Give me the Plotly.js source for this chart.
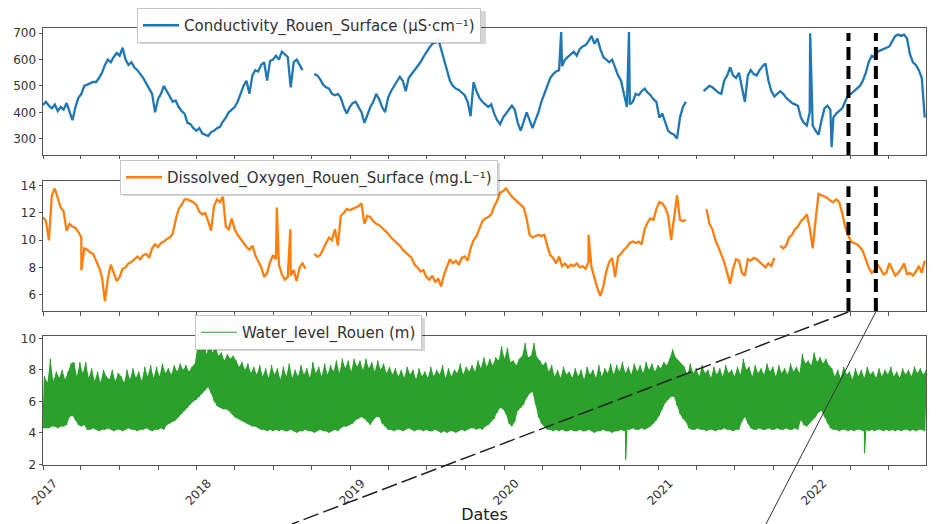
<!DOCTYPE html>
<html>
<head>
<meta charset="utf-8">
<script src="https://cdn.plot.ly/plotly-3.0.1.min.js"></script>
<style>
  html, body { margin: 0; padding: 0; background: #ffffff; }
  #chart { width: 944px; height: 524px; }
</style>
</head>
<body>
<div id="chart"></div>
<script>
// Weekly series starting 2017-01-01 (one value every 7 days), null = no data
const seriesStart = '2017-01-01';
const stepDays = 7;

// Conductivity at Rouen, surface (µS/cm)
const conductivity = [
  428, 440, 425, 415, 430, 405, 420, 410, 435, 400,
  370, 420, 455, 470, 500, 505, 510, 515, 515, 530,
  550, 580, 600, 590, 610, 625, 615, 645, 600, 580,
  590, 570, 560, 545, 530, 510, 490, 470, 400, 450,
  470, 500, 480, 460, 440, 445, 420, 405, 395, 360,
  355, 340, 330, 340, 320, 315, 310, 325, 330, 340,
  345, 365, 380, 400, 410, 420, 440, 470, 500, 520,
  470, 540, 560, 555, 580, 590, 520, 595, 600, 615,
  600, 630, 620, 610, 495, 590, 600, 580, 560, null,
  null, null, 545, 540, 525, 505, 495, 490, 470, 465,
  470, 455, 420, 395, 420, 435, 440, 420, 400, 360,
  390, 420, 440, 470, 450, 420, 400, 455, 480, 500,
  520, 535, 520, 480, 530, 545, 560, 575, 590, 610,
  630, 645, 660, 665, 680, 640, 600, 560, 520, 500,
  490, 485, 475, 465, 440, 385, 515, 480, 455, 440,
  430, 420, 430, 395, 370, 355, 380, 395, 410, 425,
  410, 360, 330, 370, 400, 370, 340, 370, 400, 440,
  470, 500, 530, 545, 555, 560, 575, 600, 610, 620,
  630, 615, 640, 650, 655, 670, 690, 660, 680, 640,
  610, 600, 590, 600, 570, 540, 520, 470, 420, 430,
  440, 470, 465, 480, 490, 475, 465, 450, 440, 380,
  395, 360, 330, 320, 315, 300, 380, 420, 440, null,
  null, null, null, null, 480, 490, 500, 495, 485, 475,
  470, 520, 540, 570, 540, 530, 550, 500, 440, 540,
  560, 545, 540, 560, 575, 585, 520, 480, 460, 470,
  480, 470, 455, 445, 435, 430, 425, 380, 360, 350,
  400, 350, 330, 315, 370, 415, 425, 410, 380, 395,
  405, 415, 440, 465, 470, 480, 490, 500, 520, 550,
  590, 615, 610, 630, 635, 640, 645, 650, 670, 690,
  695, 690, 695, 680, 620, 590, 580, 560, 530, 380
];
// isolated single readings between the weekly values
const conductivitySpikeDates = ['2020-05-15', '2020-10-23', '2021-12-27', '2022-02-16'];
const conductivitySpikeValues = [705, 705, 700, 268];

// Dissolved oxygen at Rouen, surface (mg/L)
const dissolvedOxygen = [
  11.7, 11.4, 10.0, 13.3, 13.8, 13.0, 12.4, 12.1, 10.7, 11.2,
  11.0, 10.9, 10.6, 10.2, 9.4, 9.3, 9.1, 9.0, 8.5, 8.0,
  7.3, 5.5, 7.2, 8.2, 7.6, 7.0, 7.3, 7.9, 8.0, 8.3,
  8.4, 8.6, 8.8, 8.6, 8.9, 9.0, 8.7, 9.4, 9.7, 9.5,
  9.8, 9.9, 10.1, 10.2, 10.5, 11.5, 12.3, 12.6, 13.0, 13.0,
  12.9, 12.8, 12.6, 12.1, 11.9, 12.0, 11.4, 10.7, 12.5, 13.0,
  12.8, 13.2, 11.0, 10.8, 11.6, 10.8, 10.4, 10.1, 9.8, 9.5,
  9.3, 9.6, 8.9, 8.4, 8.0, 7.3, 7.6, 8.4, 8.9, 8.6,
  8.2, 7.5, 7.1, 7.3, 7.4, 7.8, 7.0, 8.0, 8.3, 7.9,
  null, null, 9.0, 8.8, 8.9, 9.4, 9.8, 10.2, 10.0, 10.8,
  9.6, 11.8, 12.0, 12.3, 12.2, 12.3, 12.4, 12.5, 12.7, 11.2,
  11.8, 11.7, 11.4, 11.2, 11.1, 10.9, 10.7, 10.5, 10.2, 10.0,
  9.8, 9.6, 9.3, 9.1, 8.9, 8.7, 8.2, 8.0, 7.7, 7.8,
  7.3, 7.1, 7.4, 6.9, 7.2, 6.6, 7.5, 8.1, 8.6, 8.3,
  8.5, 8.2, 8.7, 8.8, 8.5, 9.4, 10.0, 10.3, 10.8, 11.4,
  11.6, 11.7, 11.9, 12.5, 12.9, 13.5, 13.6, 13.8, 13.5, 13.2,
  13.0, 12.8, 12.6, 12.4, 11.6, 10.4, 10.2, 10.3, 10.4, 10.3,
  10.4, 9.6, 8.9, 8.7, 8.3, 8.8, 8.1, 8.3, 8.0, 8.2,
  8.1, 8.3, 8.0, 8.1, 7.9, 8.4, 8.0, 7.2, 6.5, 5.9,
  6.6, 7.7, 8.4, 8.7, 7.3, 8.8, 9.0, 9.3, 9.5, 9.8,
  9.9, 9.8, 9.9, 9.7, 10.8, 11.3, 11.6, 11.5, 12.3, 12.8,
  12.7, 12.4, 11.8, 10.0, 11.5, 13.3, 11.5, 11.4, 11.5, null,
  null, null, null, null, null, 12.3, 11.2, 10.8, 10.0, 9.5,
  9.0, 8.4, 7.6, 6.8, 7.9, 8.6, 8.5, 7.6, 7.4, 8.6,
  8.5, 8.7, 8.6, 8.4, 8.2, 8.0, 8.3, 8.1, 8.7, null,
  9.6, 9.4, 9.6, 10.2, 10.4, 10.8, 11.0, 11.4, 11.6, 11.9,
  10.9, 9.4, 11.5, 13.4, 13.3, 13.2, 13.1, 12.9, 12.8, 13.0,
  12.8, 12.0, 11.0, 10.4, 9.9, 9.8, 9.7, 9.5, 9.2, 8.6,
  8.0, 7.6, 7.8, 8.2, 7.9, 7.5, 7.6, 8.3, 7.8, 7.4,
  7.6, 7.9, 8.3, 7.5, 7.6, 7.4, 7.7, 8.1, 7.6, 8.5
];
const oxygenSpikeDates = ['2017-04-02', '2018-07-10', '2018-08-11', '2020-07-19'];
const oxygenSpikeValues = [7.8, 12.4, 10.8, 10.4];

// Water level at Rouen (m): weekly low-water and high-water readings
const waterLevelLow = [
  4.3, 4.3, 4.3, 4.4, 4.4, 4.3, 4.4, 4.4, 4.5, 5.0,
  5.1, 4.8, 4.5, 4.4, 4.5, 4.2, 4.2, 4.3, 4.2, 4.1,
  4.2, 4.2, 4.3, 4.2, 4.1, 4.2, 4.2, 4.1, 4.2, 4.3,
  4.2, 4.2, 4.1, 4.2, 4.2, 4.3, 4.2, 4.1, 4.2, 4.2,
  4.3, 4.2, 4.5, 4.6, 4.7, 4.8, 5.0, 5.2, 5.4, 5.6,
  5.8, 6.0, 6.1, 6.3, 6.5, 6.7, 6.9, 6.5, 6.0, 5.7,
  5.6, 5.5, 5.5, 5.4, 5.2, 5.0, 4.9, 4.8, 4.7, 4.6,
  4.5, 4.4, 4.4, 4.3, 4.2, 4.2, 4.1, 4.2, 4.1, 4.2,
  4.1, 4.2, 4.1, 4.1, 4.2, 4.1, 4.0, 4.1, 4.1, 4.2,
  4.1, 4.1, 4.0, 4.1, 4.2, 4.1, 4.1, 4.0, 4.1, 4.2,
  4.1, 4.3, 4.4, 4.4, 4.5, 4.6, 4.8, 4.9, 5.0, 4.9,
  4.7, 4.5, 4.8, 5.0, 5.0, 4.6, 4.4, 4.2, 4.2, 4.1,
  4.2, 4.2, 4.1, 4.2, 4.3, 4.2, 4.1, 4.2, 4.2, 4.1,
  4.2, 4.1, 4.1, 4.2, 4.1, 4.0, 4.1, 4.0, 4.1, 4.1,
  4.0, 4.1, 4.2, 4.1, 4.2, 4.3, 4.3, 4.2, 4.3, 4.2,
  4.4, 4.5, 4.7, 4.9, 5.3, 5.6, 5.5, 5.2, 4.6, 4.4,
  4.7, 5.4, 5.6, 5.8, 6.2, 6.5, 6.6, 5.8, 5.0, 4.6,
  4.4, 4.2, 4.2, 4.1, 4.2, 4.1, 4.2, 4.1, 4.1, 4.2,
  4.1, 4.1, 4.2, 4.1, 4.1, 4.2, 4.1, 4.0, 4.1, 4.1,
  4.2, 4.1, 4.1, 4.0, 4.1, 4.1, 4.2, 4.1, 4.2, 4.2,
  4.3, 4.2, 4.2, 4.3, 4.2, 4.3, 4.4, 4.6, 4.8, 5.1,
  5.5, 5.9, 6.1, 6.3, 6.3, 5.7, 5.2, 4.9, 4.7, 4.3,
  4.2, 4.2, 4.3, 4.2, 4.2, 4.1, 4.2, 4.2, 4.1, 4.2,
  4.2, 4.3, 4.2, 4.2, 4.1, 4.2, 4.2, 4.7, 5.0, 4.6,
  4.3, 4.2, 4.2, 4.3, 4.2, 4.2, 4.3, 4.2, 4.2, 4.3,
  4.2, 4.2, 4.3, 4.2, 4.2, 4.3, 4.2, 4.8, 4.5, 4.4,
  4.6, 4.8, 5.0, 5.3, 5.4, 5.0, 4.6, 4.3, 4.2, 4.2,
  4.1, 4.2, 4.2, 4.1, 4.2, 4.1, 4.2, 4.2, 4.1, 4.2,
  4.1, 4.2, 4.1, 4.2, 4.2, 4.1, 4.2, 4.1, 4.2, 4.1,
  4.2, 4.1, 4.2, 4.2, 4.1, 4.2, 4.1, 4.2, 4.2, 4.1
];
const waterLevelHigh = [
  7.6, 7.2, 8.7, 7.3, 7.9, 7.5, 8.0, 7.4, 7.9, 8.4,
  8.5, 7.6, 8.5, 7.8, 8.5, 7.5,
  8.1, 7.3, 7.9, 7.2, 8.0, 7.6, 7.4, 8.0, 7.3, 7.8,
  7.6, 7.2, 8.0, 7.4, 8.1, 7.5, 7.9, 7.3, 8.2, 7.6,
  8.3, 7.5, 8.2, 7.6, 8.4, 7.8, 8.1, 7.7, 8.3, 7.9,
  8.4, 8.0, 8.3, 7.9, 8.2, 8.4,
  9.7, 9.2, 9.8, 9.0, 9.7, 9.1, 9.5,
  8.9, 9.1, 8.6, 9.0, 8.7, 8.9, 8.6,
  8.2, 8.5, 8.0, 8.4, 7.8, 8.2, 7.7, 8.3, 7.6, 8.1,
  7.5, 8.3, 7.7, 8.1, 7.4, 8.2, 7.6, 8.4, 7.5, 8.0, 7.6, 8.3, 7.7, 8.1, 7.5,
  8.5, 7.8, 8.2, 7.6, 8.4, 7.7, 8.3, 7.9, 8.6, 7.8, 8.7, 8.1, 8.6, 7.9, 8.7,
  8.2, 8.6, 8.0, 8.7, 8.1, 8.5, 7.9, 8.6, 8.0, 8.4, 7.8, 8.2, 7.7,
  8.1, 7.6, 8.0, 7.5, 8.2, 7.7, 8.0, 7.4, 8.1, 7.6,
  7.9, 7.5, 8.2, 7.6, 8.0, 7.7, 8.3, 7.5, 8.1, 7.6,
  8.0, 7.8, 8.4, 7.7, 8.2, 7.9,
  8.3, 7.9, 8.6, 8.1, 8.8, 8.2, 8.7, 8.3, 8.8,
  8.6, 9.5, 8.7, 9.4, 8.5, 8.6, 8.3,
  8.7, 8.9, 9.7, 8.8, 8.9, 9.7, 8.8, 8.6, 8.3, 8.5,
  7.9, 8.3, 7.6, 8.0, 7.5, 8.2, 7.7, 7.9, 7.5, 8.1,
  7.6, 8.0, 7.4, 8.2, 7.7, 8.0, 7.5, 8.3, 7.6, 8.1,
  7.8, 8.4, 7.7, 8.3, 7.9, 8.5, 7.8, 8.2, 7.7, 8.4,
  7.9, 8.3, 7.8, 8.5, 8.0, 8.4, 7.9, 8.3, 8.1, 8.5,
  8.3, 8.7, 9.3, 8.8, 8.6, 8.4,
  8.2, 7.7, 8.4, 7.8, 8.1, 7.6, 8.3, 7.8, 8.0, 7.5,
  8.2, 7.7, 8.1, 7.6, 8.3, 7.8, 8.0, 7.6, 8.2, 7.7,
  8.7, 8.0, 8.2, 7.6, 8.3, 7.8, 8.1, 7.7, 8.4, 7.9,
  8.2, 7.6, 8.3, 7.8, 8.1, 7.7, 8.4, 7.9, 8.2, 7.8,
  9.0, 8.4, 8.6, 8.3, 9.1, 8.5, 8.8, 8.4, 8.7, 8.3,
  8.1, 7.6, 8.0, 7.5, 8.2, 7.7, 7.9, 7.4, 8.1, 7.6,
  8.0, 7.5, 8.2, 7.7, 7.9, 7.5, 8.1, 7.6, 8.0, 7.7,
  8.2, 7.6, 7.9, 7.5, 8.1, 7.7, 8.0, 7.6, 8.2, 7.8,
  8.1, 7.7, 8.0
];
const waterLevelDipDates = ['2020-10-15', '2022-05-05'];
const waterLevelDipValues = [2.3, 2.7];

// Period of interest marked on the conductivity and oxygen panels
const markerDates = ['2022-03-28', '2022-06-01'];

const seriesNames = [
  'Conductivity_Rouen_Surface (µS·cm⁻¹)',
  'Dissolved_Oxygen_Rouen_Surface (mg.L⁻¹)',
  'Water_level_Rouen (m)'
];
const seriesColors = ['#1f77b4', '#ff7f0e', '#2ca02c'];

// ---- helpers -------------------------------------------------------------
const DAY = 86400000;
const t0 = Date.parse(seriesStart + 'T00:00:00Z');
const fmt = ms => new Date(ms).toISOString().slice(0, 16).replace('T', ' ');

function weekly(values, offsetDays) {
  return values.map((v, i) => ({ t: t0 + (i * stepDays + offsetDays) * DAY, v: v }));
}
function addPoints(points, dates, values) {
  const extra = dates.map((d, k) => ({ t: Date.parse(d + 'T00:00:00Z'), v: values[k] }));
  return points.concat(extra).sort((a, b) => a.t - b.t);
}
function xy(points) {
  return { x: points.map(p => fmt(p.t)), y: points.map(p => p.v) };
}

const condXY = xy(addPoints(weekly(conductivity, 0), conductivitySpikeDates, conductivitySpikeValues));
const oxyXY = xy(addPoints(weekly(dissolvedOxygen, 0), oxygenSpikeDates, oxygenSpikeValues));
const lowXY = xy(weekly(waterLevelLow, 0));
const highXY = xy(weekly(waterLevelHigh, 3.5));
// tide: low water then high water half a week later, alternating
const tidePoints = [];
waterLevelLow.forEach((v, i) => {
  tidePoints.push({ t: t0 + i * stepDays * DAY, v: v });
  tidePoints.push({ t: t0 + (i * stepDays + 3.5) * DAY, v: waterLevelHigh[i] });
});
const levelXY = xy(addPoints(tidePoints, waterLevelDipDates, waterLevelDipValues));

// ---- traces ----------------------------------------------------------------
const traces = [
  { type: 'scatter', mode: 'lines', name: seriesNames[0], x: condXY.x, y: condXY.y,
    xaxis: 'x3', yaxis: 'y3', legend: 'legend', line: { color: seriesColors[0], width: 2.3 } },
  { type: 'scatter', mode: 'lines', name: seriesNames[1], x: oxyXY.x, y: oxyXY.y,
    xaxis: 'x2', yaxis: 'y2', legend: 'legend2', line: { color: seriesColors[1], width: 2.3 } },
  // tidal range band: low-water envelope, then filled up to the high-water envelope
  { type: 'scatter', mode: 'lines', x: lowXY.x, y: lowXY.y, xaxis: 'x', yaxis: 'y',
    showlegend: false, hoverinfo: 'skip', line: { width: 0, color: seriesColors[2] } },
  { type: 'scatter', mode: 'lines', x: highXY.x, y: highXY.y, xaxis: 'x', yaxis: 'y',
    showlegend: false, hoverinfo: 'skip', fill: 'tonexty', fillcolor: seriesColors[2],
    line: { width: 0, color: seriesColors[2] } },
  { type: 'scatter', mode: 'lines', name: seriesNames[2], x: levelXY.x, y: levelXY.y,
    xaxis: 'x', yaxis: 'y', legend: 'legend3', line: { color: seriesColors[2], width: 1.2 } }
];

// ---- layout ----------------------------------------------------------------
const FONT = 'DejaVu Sans';
const frame = {
  showline: true, mirror: true, linecolor: '#555', linewidth: 1,
  ticks: 'outside', ticklen: 3.5, tickwidth: 1, tickcolor: '#555',
  showgrid: false, zeroline: false,
  tickfont: { family: FONT, size: 12, color: '#333' }
};
const timeAxis = Object.assign({}, frame, {
  type: 'date', dtick: 'M12', tick0: '2017-01-01', tickformat: '%Y',
  minor: { dtick: 'M3', ticks: 'outside', ticklen: 3.5, tickcolor: '#555', showgrid: false }
});

const legendBox = (x, y) => ({
  x: x, y: y, xanchor: 'left', yanchor: 'top', itemwidth: 36,
  bgcolor: 'rgba(255,255,255,0.95)', bordercolor: '#c8c8c8', borderwidth: 1,
  font: { family: FONT, size: 15, color: '#333' }
});

// figure is 944 x 524 with the plotting area spanning x 43..926, y 28..465
const px = x => (x - 43) / 883;
const py = y => (465 - y) / 437;

// legend boxes: left, top, right edges in pixels (each box is about 33 px tall)
const legendFrames = [[137, 8, 483], [120, 160, 497], [195, 315, 422]];
const LEGEND_H = 33;

const shapes = [];
// soft drop shadows offset behind the three legend boxes
legendFrames.forEach(([l, t, r]) => {
  shapes.push({ type: 'rect', xref: 'paper', yref: 'paper', layer: 'above',
    x0: px(l + 3), x1: px(r + 3), y0: py(t + LEGEND_H + 3), y1: py(t + 3),
    fillcolor: 'rgba(0,0,0,0.16)', line: { width: 0 } });
});
markerDates.forEach(d => {
  [['x3', 'y3 domain'], ['x2', 'y2 domain']].forEach(([xr, yr]) => {
    shapes.push({ type: 'line', xref: xr, yref: yr, x0: d, x1: d, y0: 0, y1: 0.96,
      line: { color: '#000', width: 4, dash: '13px,6px' } });
  });
});
// connectors leading down from the marked period
shapes.push({ type: 'line', xref: 'paper', yref: 'paper', x0: px(848.3), y0: py(312), x1: px(292), y1: py(524),
  line: { color: '#222', width: 1.5, dash: '16px,5px' } });
shapes.push({ type: 'line', xref: 'paper', yref: 'paper', x0: px(875.7), y0: py(312), x1: px(766), y1: py(524),
  line: { color: '#333', width: 1 } });

const layout = {
  width: 944, height: 524, autosize: false,
  margin: { l: 43, r: 18, t: 28, b: 59, autoexpand: false },
  paper_bgcolor: '#ffffff', plot_bgcolor: '#ffffff',
  font: { family: FONT, color: '#333' },
  showlegend: true,
  xaxis: Object.assign({}, timeAxis, {
    anchor: 'y', range: ['2017-01-01', '2022-09-28'], tickangle: -45,
    ticklabelshift: 11, ticklabelstandoff: 2,
    title: { text: 'Dates', font: { family: FONT, size: 16, color: '#222' }, standoff: 2 }
  }),
  xaxis2: Object.assign({}, timeAxis, { anchor: 'y2', matches: 'x', showticklabels: false }),
  xaxis3: Object.assign({}, timeAxis, { anchor: 'y3', matches: 'x', showticklabels: false }),
  yaxis: Object.assign({}, frame, { domain: [0, 0.2952], range: [1.96, 10.15], dtick: 2, tick0: 0 }),
  yaxis2: Object.assign({}, frame, { domain: [0.3524, 0.6499], range: [4.8, 14.35], dtick: 2, tick0: 0 }),
  yaxis3: Object.assign({}, frame, { domain: [0.7094, 1], range: [238, 720], dtick: 100, tick0: 0 }),
  legend: legendBox(px(legendFrames[0][0]), py(legendFrames[0][1])),
  legend2: legendBox(px(legendFrames[1][0]), py(legendFrames[1][1])),
  legend3: legendBox(px(legendFrames[2][0]), py(legendFrames[2][1])),
  shapes: shapes
};

Plotly.newPlot('chart', traces, layout, { displayModeBar: false, staticPlot: true });
</script>
</body>
</html>
